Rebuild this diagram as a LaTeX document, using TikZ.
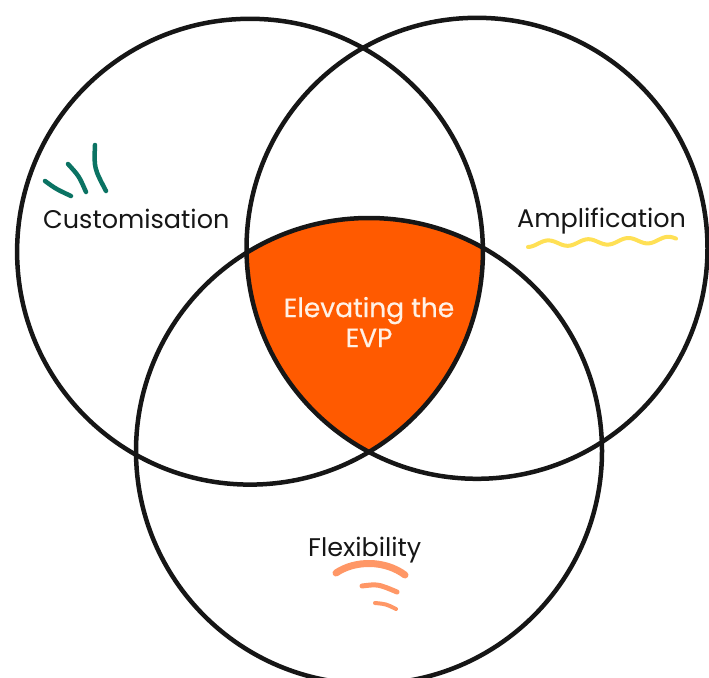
\documentclass[tikz,border=0pt]{standalone}
\usepackage{fontspec}
\setmainfont{Poppins}
\newfontfamily\evpfont{Poppins}[FakeBold=0.6]
\definecolor{ink}{HTML}{161616}
\definecolor{evp}{HTML}{FF5A00}
\definecolor{cream}{HTML}{FFF1E6}
\definecolor{tealmark}{HTML}{0B7363}
\definecolor{sun}{HTML}{FFE055}
\definecolor{salmon}{HTML}{FF9766}
\begin{document}
\begin{tikzpicture}[x=1pt,y=-1pt,
  ring/.style={draw=ink,line width=4.5pt},
  lbl/.style={font=\fontsize{25.5}{30}\selectfont, text=ink, inner sep=0pt},
  brush/.style={line cap=round, line join=round}]
\useasboundingbox (0,0) rectangle (709,677);
\coordinate (cL) at (250,251.7);
\coordinate (cR) at (477,248.3);
\coordinate (cB) at (369,451);
\begin{scope}
  \clip (cL) circle (232.9pt);
  \clip (cR) circle (230.5pt);
  \fill[evp] (cB) circle (233pt);
\end{scope}
\draw[ring] (cL) circle (232.9pt);
\draw[ring] (cR) circle (230.5pt);
\draw[ring] (cB) circle (233pt);
% labels
\node[lbl, anchor=base west] (cust) at (43,228) {Customisation};
\node[lbl, anchor=base west] (amp) at (517,227) {Amplification};
\node[lbl, anchor=base west] (flex) at (308,556) {Flexibility};
\node[align=center, text=cream, inner sep=0pt,
      font=\evpfont\fontsize{26.5}{30}\selectfont] (evptext) at (369,322) {Elevating the\\EVP};
% teal marks
\draw[tealmark, brush, line width=4.5pt] (45,181) .. controls (56,189) .. (71,196);
\draw[tealmark, brush, line width=4.5pt] (68,164) .. controls (79,176) .. (86,192);
\draw[tealmark, brush, line width=4.5pt] (95,145) .. controls (94,168) .. (106,191);
% yellow wave
\draw[sun, brush, line width=4pt] plot[domain=0:148, samples=80] ({528+\x}, {244 - 0.03*\x + 3*cos(9*\x)});
% salmon marks
\draw[salmon, brush, line width=7pt] (336,573) .. controls (355,560) and (385,560) .. (405,575);
\draw[salmon, brush, line width=5pt] (362,586) .. controls (378,584) .. (397,592);
\draw[salmon, brush, line width=4pt] (375,603) .. controls (386,604) .. (396,609);
\end{tikzpicture}
\end{document}
